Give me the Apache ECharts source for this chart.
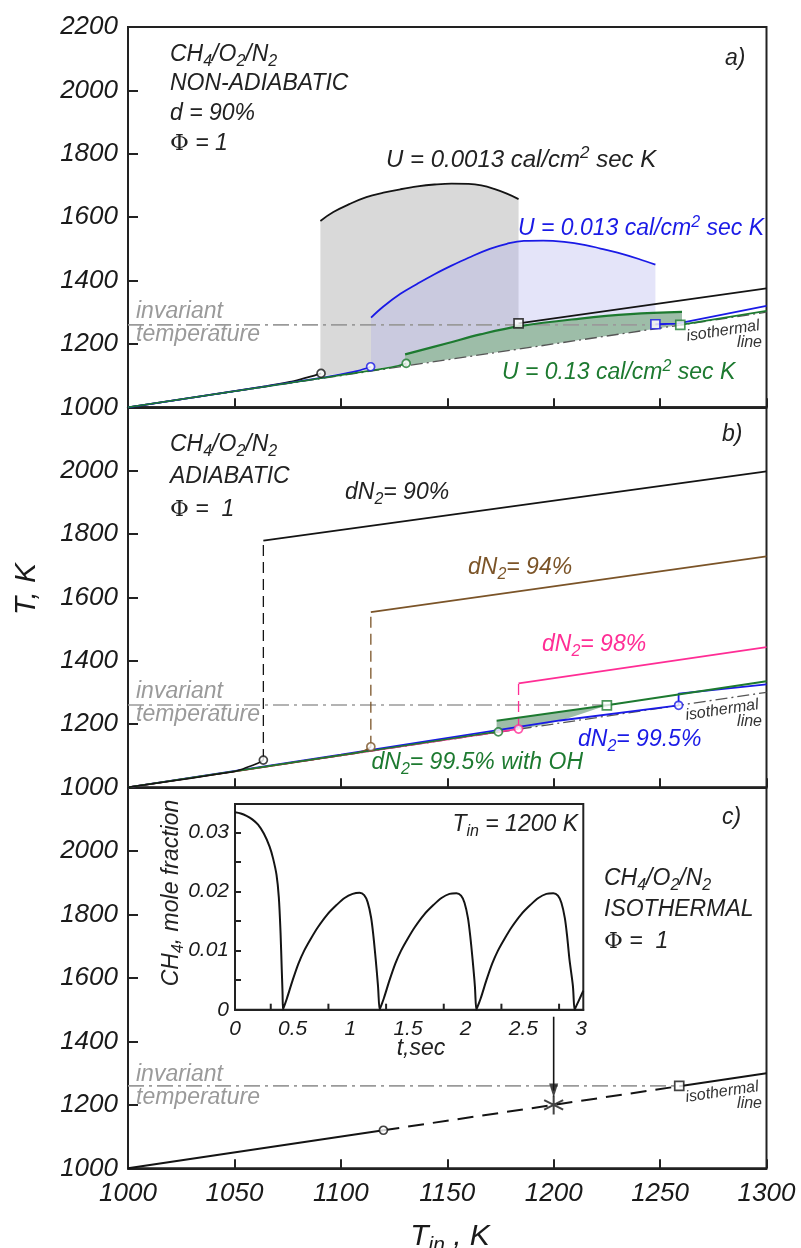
<!DOCTYPE html>
<html><head><meta charset="utf-8">
<script src="https://cdn.jsdelivr.net/npm/echarts@6/dist/echarts.min.js"></script>
<style>html,body{margin:0;padding:0;background:#fff}#c{width:801px;height:1248px}</style>
</head><body><div id="c"></div>
<script>
// ---------- tick labels ----------
const tinLabels = [1000, 1050, 1100, 1150, 1200, 1250, 1300];
const tLabelsTop = [1000, 1200, 1400, 1600, 1800, 2000, 2200];
const tLabelsLower = [1000, 1200, 1400, 1600, 1800, 2000];
const insetTLabels = [0, 0.5, 1, 1.5, 2, 2.5, 3];
const insetTTicks = [0.31, 0.81, 1.31, 1.81, 2.31, 2.81];
const insetCLabels = [0, 0.01, 0.02, 0.03];

// ---------- shared lines ----------
const isothermal = [[1000, 1000], [1300, 1300]];
const invariantA = [[1000, 1260], [1260, 1260]];
const invariantB = [[1000, 1260], [1225, 1260]];
const invariantC = [[1000, 1260], [1259, 1260]];

// ---------- panel a (non-adiabatic) ----------
const aBlackLow = [[1000, 1000], [1065, 1067], [1076, 1080], [1083, 1092], [1087.5, 1100], [1090.7, 1107]];
const aBlueLow = [[1000, 1000], [1090, 1092], [1100, 1104], [1108, 1115], [1114, 1128]];
const aGreenLow = [[1000, 1000], [1120, 1122], [1127, 1131], [1130.7, 1138.6]];
const aBlackUp = [[1183.5, 1265], [1300, 1375]];
const aBlueUp = [[1247.8, 1262], [1258, 1264], [1300, 1320]];
const aGreenUp = [[1259.5, 1260], [1300, 1304]];
const aBlackCurve = [[1090.4, 1588], [1096.5, 1616], [1104, 1641], [1112, 1663], [1120, 1677], [1128, 1688], [1136, 1697], [1144, 1703], [1152, 1706], [1160, 1705], [1166, 1700], [1172, 1689], [1178, 1674], [1183.5, 1657]];
const aBlueCurve = [[1114.2, 1283], [1120, 1318], [1128, 1358], [1136, 1390], [1144, 1420], [1152, 1447], [1160, 1472], [1170, 1500], [1178, 1516], [1186, 1525], [1195, 1526], [1205, 1522], [1215, 1512], [1222, 1501], [1230, 1488], [1240, 1468], [1247.8, 1450]];
const aGreenCurve = [[1130.2, 1167], [1150, 1202], [1165.5, 1230], [1184, 1256], [1212.5, 1280], [1236, 1294], [1260.3, 1301]];
const aGrayBase = [[1183.5, 1183.5], [1090.4, 1098]];
const aBlueBase = [[1247.8, 1247.8], [1114.2, 1120]];
const aGreenBase = [[1260.3, 1260.3], [1130.2, 1131]];
const aBlackCircle = [[1090.7, 1107]];
const aBlueCircle = [[1114, 1128]];
const aGreenCircle = [[1130.7, 1138.6]];
const aBlackSquare = [[1183.5, 1265]];
const aBlueSquare = [[1247.8, 1262]];
const aGreenSquare = [[1259.5, 1260]];

// ---------- panel b (adiabatic) ----------
const bBlackLow = [[1000, 1000], [1049.5, 1049], [1054, 1058], [1058, 1068], [1061, 1076], [1063.6, 1086]];
const bBrownLow = [[1000, 1000], [1105, 1106], [1111, 1115], [1114.1, 1128]];
const bPinkLow = [[1000, 1000], [1183.5, 1184]];
const bGreenLow = [[1000, 1000], [1170, 1172], [1174, 1175]];
const bBlueLow = [[1000, 1000], [1100, 1103], [1203, 1211], [1258.7, 1259]];
const bBlackJump = [[1063.6, 1086], [1063.6, 1779]];
const bBrownJump = [[1114.1, 1128], [1114.1, 1553]];
const bPinkJump = [[1183.5, 1184], [1183.5, 1328]];
const bBlackUp = [[1063.6, 1779], [1300, 1998]];
const bBrownUp = [[1114.1, 1553], [1300, 1729]];
const bPinkUp = [[1183.5, 1328], [1300, 1443]];
const bGreenUp = [[1173.2, 1210], [1225, 1259], [1300, 1335]];
const bBlueUp = [[1258.7, 1259], [1258.7, 1296], [1300, 1325]];
const bGreenFillTop = [[1173.2, 1210], [1225, 1259]];
const bGreenFillBottom = [[1215, 1236], [1205, 1214], [1195, 1197], [1185, 1185], [1173.2, 1176]];
const bBlackCircle = [[1063.6, 1086]];
const bBrownCircle = [[1114.1, 1128]];
const bGreenCircle = [[1174, 1175]];
const bPinkCircle = [[1183.5, 1184]];
const bBlueCircle = [[1258.7, 1259]];
const bGreenSquare = [[1225, 1259]];

// ---------- panel c (isothermal) ----------
const cSolidLow = [[1000, 1000], [1120, 1120]];
const cDashed = [[1120, 1120], [1259, 1259]];
const cSolidUp = [[1259, 1259], [1300, 1300]];
const cCircle = [[1120, 1120]];
const cSquare = [[1259, 1260]];
const cStar = [[1200, 1200]];
const cArrowShaft = [[1200, 1478], [1200, 1245]];
const cArrowHead = [[1200, 1245]];

// ---------- inset: CH4 mole fraction vs t (s) at Tin = 1200 K ----------
const insetCurve = [
  [0, 0.0334], [0.05, 0.0332], [0.1, 0.0328], [0.15, 0.0322], [0.2, 0.0313], [0.25, 0.0298], [0.3, 0.0276], [0.33, 0.0256], [0.36, 0.0228], [0.38, 0.0190], [0.395, 0.0130], [0.405, 0.0070], [0.412, 0.0030], [0.416, 0],
  [0.42, 0], [0.45, 0.0019], [0.5, 0.0050], [0.55, 0.0078], [0.6, 0.0100], [0.66, 0.0121], [0.72, 0.0140], [0.8, 0.0161], [0.88, 0.0177], [0.95, 0.0189], [1.02, 0.0196], [1.08, 0.0198], [1.12, 0.0194], [1.15, 0.0182], [1.18, 0.0156], [1.2, 0.0125], [1.22, 0.0085], [1.24, 0.0040], [1.254, 0],
  [1.258, 0], [1.29, 0.0019], [1.34, 0.0050], [1.39, 0.0078], [1.44, 0.0100], [1.5, 0.0121], [1.56, 0.0140], [1.64, 0.0161], [1.72, 0.0177], [1.79, 0.0189], [1.86, 0.0196], [1.92, 0.0197], [1.96, 0.0193], [1.99, 0.0181], [2.02, 0.0155], [2.04, 0.0124], [2.06, 0.0085], [2.08, 0.0040], [2.092, 0],
  [2.095, 0], [2.13, 0.0019], [2.18, 0.0050], [2.23, 0.0078], [2.28, 0.0100], [2.34, 0.0121], [2.40, 0.0140], [2.48, 0.0161], [2.56, 0.0177], [2.63, 0.0189], [2.70, 0.0196], [2.76, 0.0197], [2.80, 0.0193], [2.83, 0.0181], [2.86, 0.0155], [2.88, 0.0124], [2.90, 0.0085], [2.93, 0.0040], [2.944, 0],
  [2.95, 0], [2.98, 0.0015], [3.02, 0.0032]
];

// ---------- styling ----------
const F = '"Liberation Sans", Arial, sans-serif';
const C = { black: '#141414', blue: '#1a1ae6', green: '#1d7a30', brown: '#7b5428', pink: '#ff2d95', inv: '#9a9a9a', iso: '#555', axis: '#222' };

function ln(g, data, color, width, type, z, smooth) {
  return { type: 'line', xAxisIndex: g, yAxisIndex: g, data, symbol: 'none', showSymbol: false, smooth: smooth || false,
    lineStyle: { color, width, type: type || 'solid' }, z: z || 5, silent: true, clip: false };
}
function mk(g, data, color, symbol, size) {
  return { type: 'scatter', xAxisIndex: g, yAxisIndex: g, data, symbol: symbol || 'circle', symbolSize: size || 8,
    itemStyle: { color: '#fff', borderColor: color, borderWidth: 1.7 }, z: 20, silent: true };
}
function poly(g, top, bottom, fill, z) {
  const pts = top.concat(bottom);
  return { type: 'custom', xAxisIndex: g, yAxisIndex: g, data: [pts[0]], z: z || 1, silent: true,
    renderItem: function (params, api) {
      return { type: 'polygon', shape: { points: pts.map(p => api.coord(p)) }, style: { fill } };
    } };
}
function mainX(i, showLabels) {
  return { gridIndex: i, type: 'value', min: 1000, max: 1300, interval: 50, position: 'bottom',
    axisLine: { show: true, onZero: false, lineStyle: { color: C.axis, width: 2 } },
    axisTick: { show: true, inside: true, length: 9, lineStyle: { color: C.axis, width: 2 } },
    axisLabel: { show: showLabels, margin: 12, color: '#1a1a1a', fontSize: 26, fontStyle: 'italic', fontFamily: F,
      showMinLabel: true, showMaxLabel: true, formatter: v => tinLabels.includes(v) ? String(v) : '' },
    splitLine: { show: false } };
}
function mainY(i, labels) {
  return { gridIndex: i, type: 'value', min: 1000, max: 2200, interval: 200,
    axisLine: { show: true, onZero: false, lineStyle: { color: C.axis, width: 2 } },
    axisTick: { show: true, inside: true, length: 10, lineStyle: { color: C.axis, width: 2 } },
    axisLabel: { margin: 10, color: '#1a1a1a', fontSize: 26, fontStyle: 'italic', fontFamily: F, padding: [0, 0, 8, 0],
      showMinLabel: true, showMaxLabel: true, formatter: v => labels.includes(v) ? String(v) : '' },
    splitLine: { show: false } };
}
function tx(x, y, text, size, color, o) {
  o = o || {};
  const sub = Math.round(size * 0.7);
  return { type: 'text', x, y, z: 50, silent: true, rotation: o.rot || 0,
    style: { text, fill: color, fontSize: size, fontStyle: o.upright ? 'normal' : 'italic', fontFamily: F,
      align: o.align || 'left', verticalAlign: 'middle', textAlign: o.align || 'left', textVerticalAlign: 'middle',
      rich: {
        s: { fontSize: sub, fill: color, fontStyle: 'italic', fontFamily: F, padding: [Math.round(size * 0.55), 0, 0, 0] },
        u: { fontSize: sub, fill: color, fontStyle: 'italic', fontFamily: F, padding: [0, 0, Math.round(size * 0.55), 0] },
        p: { fontSize: size, fill: color, fontStyle: 'normal', fontFamily: '"DejaVu Serif", serif' },
        n: { fontSize: size, fill: color, fontStyle: 'italic', fontFamily: F }
      } } };
}

const gridBase = { show: true, borderColor: C.axis, borderWidth: 2, containLabel: false };
const option = {
  animation: false,
  backgroundColor: '#fff',
  grid: [
    Object.assign({ left: 128, top: 27, width: 638.5, height: 380.3 }, gridBase),
    Object.assign({ left: 128, top: 407.3, width: 638.5, height: 380 }, gridBase),
    Object.assign({ left: 128, top: 787.8, width: 638.5, height: 380.5 }, gridBase),
    { show: true, left: 235, top: 804, width: 348.3, height: 205.7, borderColor: C.axis, borderWidth: 2, backgroundColor: '#fff' }
  ],
  xAxis: [
    mainX(0, false), mainX(1, false), mainX(2, true),
    { gridIndex: 3, type: 'value', min: 0, max: 3.02, interval: 0.5, position: 'bottom',
      axisLine: { show: true, onZero: false, lineStyle: { color: C.axis, width: 2 } },
      axisTick: { show: false },
      axisLabel: { margin: 9, color: '#1a1a1a', fontSize: 21, fontStyle: 'italic', fontFamily: F, showMinLabel: true, showMaxLabel: true,
        customValues: insetTLabels,
        formatter: v => { const k = insetTLabels.find(t => Math.abs(t - v) < 1e-6); return k === undefined ? '' : String(k); } },
      splitLine: { show: false } }
  ],
  yAxis: [
    mainY(0, tLabelsTop), mainY(1, tLabelsLower), mainY(2, tLabelsLower),
    { gridIndex: 3, type: 'value', min: 0, max: 0.0348, interval: 0.005,
      axisLine: { show: true, onZero: false, lineStyle: { color: C.axis, width: 2 } },
      axisTick: { show: true, inside: true, length: 6, lineStyle: { color: C.axis, width: 2 } },
      axisLabel: { margin: 6, color: '#1a1a1a', fontSize: 21, fontStyle: 'italic', fontFamily: F, showMaxLabel: false,
        formatter: v => { const k = insetCLabels.find(t => Math.abs(t - v) < 1e-7); return k === undefined ? '' : (k === 0 ? '0' : k.toFixed(2)); } },
      splitLine: { show: false } }
  ],
  series: [
    // panel a fills
    poly(0, aBlackCurve, aGrayBase, '#d9d9d9', 1),
    poly(0, aBlueCurve, aBlueBase, 'rgba(170,170,235,0.32)', 2),
    poly(0, aGreenCurve, aGreenBase, '#9dbda8', 3),
    // panel a lines
    ln(0, isothermal, C.iso, 1.3, [12, 4, 2, 4], 4),
    ln(0, invariantA, C.inv, 1.6, [16, 5, 3, 5], 4),
    ln(0, aBlackLow, C.black, 1.8, 'solid', 6, 0.3),
    ln(0, aBlueLow, C.blue, 1.8, 'solid', 7, 0.3),
    ln(0, aGreenLow, C.green, 1.6, 'solid', 8, 0.3),
    ln(0, aBlackUp, C.black, 1.8),
    ln(0, aBlueUp, C.blue, 1.8),
    ln(0, aGreenUp, C.green, 1.8),
    ln(0, aBlackCurve, C.black, 1.8, 'solid', 6, 0.4),
    ln(0, aBlueCurve, C.blue, 1.8, 'solid', 6, 0.4),
    ln(0, aGreenCurve, C.green, 2.2, 'solid', 6, 0.4),
    mk(0, aBlackCircle, C.black), mk(0, aBlueCircle, C.blue), mk(0, aGreenCircle, C.green),
    mk(0, aBlackSquare, C.black, 'rect', 9), mk(0, aBlueSquare, C.blue, 'rect', 9), mk(0, aGreenSquare, C.green, 'rect', 9),
    // panel b
    poly(1, bGreenFillTop, bGreenFillBottom, '#9dbda8', 2),
    ln(1, isothermal, C.iso, 1.3, [12, 4, 2, 4], 3),
    ln(1, invariantB, C.inv, 1.6, [16, 5, 3, 5], 3),
    ln(1, bPinkLow, C.pink, 1.6, 'solid', 4),
    ln(1, bBlueLow, C.blue, 1.8, 'solid', 5),
    ln(1, bBrownLow, C.brown, 1.8, 'solid', 6, 0.3),
    ln(1, bGreenLow, C.green, 1.6, 'solid', 7),
    ln(1, bBlackLow, C.black, 1.6, 'solid', 8, 0.3),
    ln(1, bBlackJump, C.black, 1.3, [11, 6]),
    ln(1, bBrownJump, C.brown, 1.3, [11, 6]),
    ln(1, bPinkJump, C.pink, 1.3, [11, 6]),
    ln(1, bBlackUp, C.black, 1.8),
    ln(1, bBrownUp, C.brown, 1.8),
    ln(1, bPinkUp, C.pink, 1.8),
    ln(1, bBlueUp, C.blue, 1.8),
    ln(1, bGreenUp, C.green, 2),
    mk(1, bBlackCircle, C.black), mk(1, bBrownCircle, C.brown), mk(1, bGreenCircle, C.green),
    mk(1, bPinkCircle, C.pink), mk(1, bBlueCircle, C.blue), mk(1, bGreenSquare, C.green, 'rect', 9),
    // panel c
    ln(2, invariantC, C.inv, 1.6, [16, 5, 3, 5], 3),
    ln(2, cSolidLow, C.black, 2),
    ln(2, cDashed, C.black, 2, [16, 9]),
    ln(2, cSolidUp, C.black, 2),
    ln(2, cArrowShaft, C.black, 1.6),
    { type: 'scatter', xAxisIndex: 2, yAxisIndex: 2, data: cArrowHead, symbol: 'triangle', symbolRotate: 180, symbolSize: [9, 14],
      itemStyle: { color: C.black }, z: 20, silent: true },
    { type: 'scatter', xAxisIndex: 2, yAxisIndex: 2, data: cStar, symbol: 'path://M10 0L10 20M1.34 5L18.66 15M1.34 15L18.66 5', symbolSize: 19,
      itemStyle: { color: 'none', borderColor: C.black, borderWidth: 2 }, z: 20, silent: true },
    mk(2, cCircle, C.black), mk(2, cSquare, C.black, 'rect', 9),
    // inset
    { type: 'line', xAxisIndex: 3, yAxisIndex: 3, data: insetCurve, symbol: 'none', smooth: 0.3, z: 10,
      lineStyle: { color: C.black, width: 2 }, silent: true },
    // inset time-axis tick marks (at the tick values), placed through the inset's own scale
    { type: 'custom', xAxisIndex: 3, yAxisIndex: 3, z: 12, silent: true, clip: false,
      data: insetTTicks.map(t => [t, 0]),
      renderItem: function (params, api) {
        const p = api.coord([api.value(0), api.value(1)]);
        return { type: 'line', shape: { x1: p[0], y1: p[1], x2: p[0], y2: p[1] - 6 }, style: { stroke: C.axis, lineWidth: 2 } };
      } }
  ],
  graphic: [
    // panel a
    tx(170, 55, 'CH{s|4}/O{s|2}/N{s|2}', 23, '#222'),
    tx(170, 84, 'NON-ADIABATIC', 23, '#222'),
    tx(170, 114, 'd = 90%', 23, '#222'),
    tx(170, 144, '{p|Φ}{n| = 1}', 23, '#222'),
    tx(725, 59, 'a)', 23, '#222'),
    tx(386, 160, 'U = 0.0013 cal/cm{u|2} sec K', 24, '#222'),
    tx(518, 229, 'U = 0.013 cal/cm{u|2} sec K', 23, C.blue),
    tx(502, 373, 'U = 0.13 cal/cm{u|2} sec K', 23, C.green),
    tx(136, 312, 'invariant', 23, C.inv),
    tx(136, 335, 'temperature', 23, C.inv),
    tx(723, 331, 'isothermal', 16, '#333', { align: 'center', rot: 0.15 }),
    tx(762, 343, 'line', 16, '#333', { align: 'right' }),
    // panel b
    tx(170, 445, 'CH{s|4}/O{s|2}/N{s|2}', 23, '#222'),
    tx(170, 477, 'ADIABATIC', 23, '#222'),
    tx(170, 510, '{p|Φ}{n| =  1}', 23, '#222'),
    tx(722, 435, 'b)', 23, '#222'),
    tx(345, 493, 'dN{s|2}= 90%', 23, '#222'),
    tx(468, 568, 'dN{s|2}= 94%', 23, C.brown),
    tx(542, 645, 'dN{s|2}= 98%', 23, C.pink),
    tx(583, 763, 'dN{s|2}= 99.5% with OH', 23, C.green, { align: 'right' }),
    tx(578, 740, 'dN{s|2}= 99.5%', 23, C.blue),
    tx(136, 692, 'invariant', 23, C.inv),
    tx(136, 715, 'temperature', 23, C.inv),
    tx(722, 710, 'isothermal', 16, '#333', { align: 'center', rot: 0.15 }),
    tx(762, 722, 'line', 16, '#333', { align: 'right' }),
    // panel c
    tx(722, 818, 'c)', 23, '#222'),
    tx(604, 879, 'CH{s|4}/O{s|2}/N{s|2}', 23, '#222'),
    tx(604, 910, 'ISOTHERMAL', 23, '#222'),
    tx(604, 942, '{p|Φ}{n| =  1}', 23, '#222'),
    tx(136, 1075, 'invariant', 23, C.inv),
    tx(136, 1098, 'temperature', 23, C.inv),
    tx(722, 1092, 'isothermal', 16, '#333', { align: 'center', rot: 0.15 }),
    tx(762, 1104, 'line', 16, '#333', { align: 'right' }),
    // inset texts
    tx(578, 825, 'T{s|in} = 1200 K', 23, '#222', { align: 'right' }),
    tx(421, 1049, 't,sec', 23, '#222', { align: 'center' }),
    tx(172, 893, 'CH{s|4}, mole fraction', 23, '#222', { align: 'center', rot: Math.PI / 2 }),
    // axis titles
    tx(450, 1237, 'T{s|in}{n| , K}', 30, '#1a1a1a', { align: 'center' }),
    tx(27, 589, 'T, K', 30, '#1a1a1a', { align: 'center', rot: Math.PI / 2 })
  ]
};

const chart = echarts.init(document.getElementById('c'), null, { renderer: 'canvas', width: 801, height: 1248 });
chart.setOption(option);
</script></body></html>
